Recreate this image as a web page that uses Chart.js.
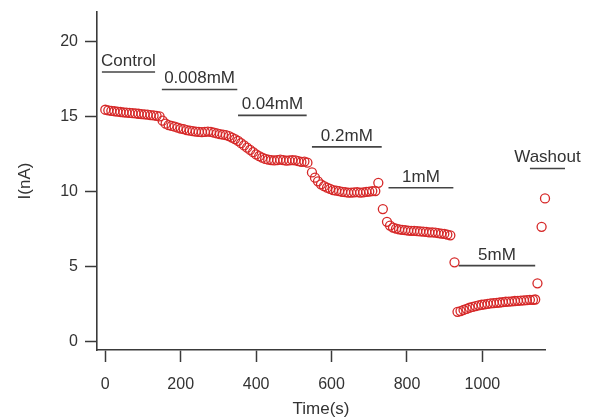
<!DOCTYPE html>
<html>
<head>
<meta charset="utf-8">
<script src="https://cdn.jsdelivr.net/npm/chart.js@4/dist/chart.umd.min.js"></script>
<style>
  html, body { margin: 0; padding: 0; background: #ffffff; }
  #wrap { width: 593px; height: 420px; }
</style>
</head>
<body>
<div id="wrap"><canvas id="c" width="593" height="420"></canvas></div>
<script>
// ---- data (time in s, current in nA) ----
const tControl = [0,8,16,24,32,40,48,56,64,72,80,88,96,104,112,120,128,136,144];
const iControl = [15.48,15.44,15.41,15.38,15.36,15.33,15.31,15.29,15.27,15.25,15.23,15.21,15.19,15.17,15.15,15.12,15.10,15.07,15.03];

const tDose1 = [152,160,168,176,184,192,200,208,216,224,232,240,248,256,264,272,280,288,296,304,312,320,328,336,344];
const iDose1 = [14.75,14.55,14.45,14.40,14.35,14.28,14.22,14.18,14.12,14.08,14.05,14.02,14.00,13.98,14.00,14.02,14.00,13.95,13.90,13.85,13.82,13.78,13.72,13.62,13.52];

const tDose2 = [352,360,368,376,384,392,400,408,416,424,432,440,448,456,464,472,480,488,496,504,512,520,528,536];
const iDose2 = [13.40,13.25,13.10,12.95,12.80,12.65,12.50,12.38,12.28,12.20,12.15,12.12,12.10,12.12,12.15,12.12,12.08,12.10,12.12,12.10,12.05,12.00,12.02,11.95];

const tDose3 = [548,556,564,572,580,588,596,604,612,620,628,636,644,652,660,668,676,684,692,700,708,716,724];
const iDose3 = [11.30,10.95,10.70,10.50,10.38,10.28,10.20,10.12,10.08,10.05,10.00,9.98,9.95,9.95,9.97,9.98,9.95,9.97,10.00,10.02,10.05,10.05,10.60];

const tDose4 = [736,747,755,763,771,779,787,795,803,811,819,827,835,843,851,859,867,875,883,891,899,907,915];
const iDose4 = [8.85,8.00,7.75,7.62,7.55,7.50,7.47,7.45,7.42,7.40,7.40,7.38,7.36,7.35,7.33,7.30,7.30,7.28,7.25,7.22,7.20,7.15,7.10];

const tDose5 = [926,934,942,950,958,966,974,982,990,998,1006,1014,1022,1030,1038,1046,1054,1062,1070,1078,1086,1094,1102,1110,1118,1126,1134,1140,1146];
const iDose5 = [5.30,2.00,2.05,2.12,2.20,2.27,2.33,2.38,2.43,2.47,2.50,2.53,2.56,2.58,2.60,2.62,2.65,2.67,2.68,2.70,2.72,2.73,2.75,2.76,2.78,2.80,2.80,2.82,3.90];

const tWash = [1157,1166];
const iWash = [7.67,9.56];

// ---- application bars ----
const barLabels = ['Control','0.008mM','0.04mM','0.2mM','1mM','5mM','Washout'];
const barStart  = [-9, 150, 352, 548, 751, 937, 1126];
const barEnd    = [132, 350, 534, 733, 923, 1140, 1219];
const barLevel  = [18.0, 16.83, 15.1, 13.0, 10.27, 5.08, 11.56];

// ---- axes ----
const xTicks = [0, 200, 400, 600, 800, 1000];
const yTicks = [0, 5, 10, 15, 20];
const xRange = [-22, 1166];
const yRange = [-0.55, 22];

const RED = 'rgb(214,40,40)';
const AXIS = '#3a3a3a';
const TEXT = '#333333';
const FONT = "'Liberation Sans', Arial, Helvetica, sans-serif";

function pts(ts, vs) { return ts.map((t, k) => ({x: t, y: vs[k]})); }

const series = [[tControl,iControl],[tDose1,iDose1],[tDose2,iDose2],[tDose3,iDose3],[tDose4,iDose4],[tDose5,iDose5],[tWash,iWash]];
const datasets = series.map(s => ({
  data: pts(s[0], s[1]),
  showLine: false,
  pointRadius: 4.5,
  pointBorderWidth: 1.3,
  pointBorderColor: RED,
  pointBackgroundColor: 'rgba(255,255,255,0)',
  clip: false
}));
barLabels.forEach((lab, k) => {
  datasets.push({
    data: [{x: barStart[k], y: barLevel[k]}, {x: barEnd[k], y: barLevel[k]}],
    showLine: true,
    borderColor: '#444444',
    borderWidth: 1.6,
    pointRadius: 0,
    clip: false
  });
});

const barText = {
  id: 'barText',
  afterDatasetsDraw(chart) {
    const {ctx, scales: {x, y}} = chart;
    ctx.save();
    ctx.fillStyle = TEXT;
    ctx.font = "17px " + FONT;
    ctx.textAlign = 'center';
    ctx.textBaseline = 'alphabetic';
    barLabels.forEach((lab, k) => {
      const cx = x.getPixelForValue((barStart[k] + barEnd[k]) / 2);
      const cy = y.getPixelForValue(barLevel[k]) - 6;
      ctx.fillText(lab, cx, cy);
    });
    ctx.restore();
  }
};

new Chart(document.getElementById('c'), {
  type: 'scatter',
  data: { datasets },
  plugins: [barText],
  options: {
    responsive: false,
    devicePixelRatio: 1,
    animation: false,
    events: [],
    layout: { padding: { top: 12, right: 48, left: 0, bottom: 0 } },
    plugins: { legend: { display: false }, tooltip: { enabled: false } },
    scales: {
      x: {
        type: 'linear',
        min: xRange[0], max: xRange[1],
        afterBuildTicks: s => { s.ticks = xTicks.map(v => ({value: v})); },
        afterFit: s => { s.height = 70; s.paddingTop = 0; s.paddingBottom = 0; },
        grid: { drawOnChartArea: false, drawTicks: true, tickLength: 12, tickWidth: 1.5, tickColor: AXIS },
        border: { display: true, color: AXIS, width: 1.6 },
        ticks: { color: TEXT, font: { family: FONT, size: 16 }, padding: 13, maxRotation: 0, callback: v => String(v) },
        title: { display: true, text: 'Time(s)', color: TEXT, font: { family: FONT, size: 17 }, padding: { top: 7, bottom: 0 } }
      },
      y: {
        type: 'linear',
        min: yRange[0], max: yRange[1],
        afterBuildTicks: s => { s.ticks = yTicks.map(v => ({value: v})); },
        afterFit: s => { s.width = 97; s.paddingTop = 0; s.paddingBottom = 0; },
        grid: { drawOnChartArea: false, drawTicks: true, tickLength: 12, tickWidth: 1.5, tickColor: AXIS },
        border: { display: true, color: AXIS, width: 1.6 },
        ticks: { color: TEXT, font: { family: FONT, size: 16 }, padding: 7, callback: v => String(v) },
        title: { display: true, text: 'I(nA)', color: TEXT, font: { family: FONT, size: 17 }, padding: { top: 15, bottom: 0 } }
      }
    }
  }
});
</script>
</body>
</html>
